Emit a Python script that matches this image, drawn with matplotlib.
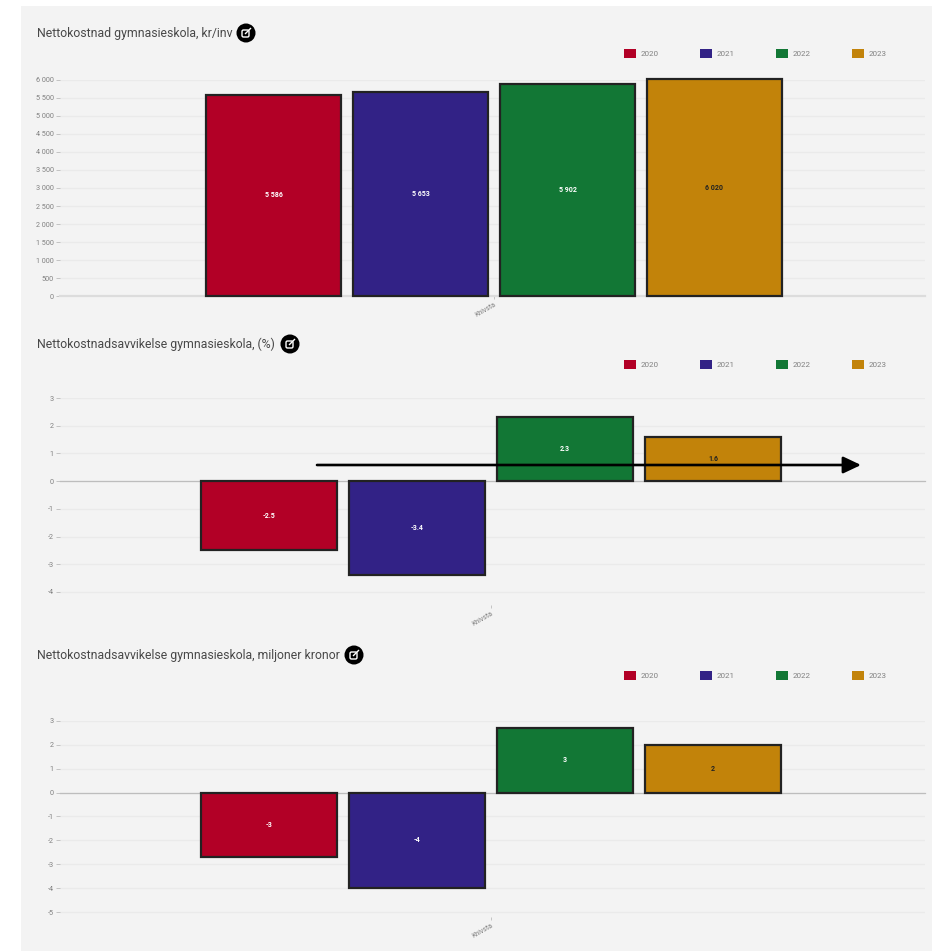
#!/usr/bin/env python3
# -*- coding: utf-8 -*-
import matplotlib
matplotlib.use('Agg')
import matplotlib.pyplot as plt
from matplotlib.patches import Circle, Patch, Rectangle, FancyBboxPatch

W, H = 932, 951

YEARS = ['2020', '2021', '2022', '2023']
COLORS = ['#B20026', '#322286', '#127735', '#C2830A']
LABEL_COLORS = ['white', 'white', 'white', '#222222']
CATEGORY = 'Knivsta'

TITLE_1 = 'Nettokostnad gymnasieskola, kr/inv'
VALUES_1 = [5586, 5653, 5902, 6020]
LABELS_1 = ['5 586', '5 653', '5 902', '6 020']
TICKS_1 = [0, 500, 1000, 1500, 2000, 2500, 3000, 3500, 4000, 4500, 5000, 5500, 6000]
TICKLABELS_1 = ['0', '500', '1 000', '1 500', '2 000', '2 500', '3 000', '3 500',
                '4 000', '4 500', '5 000', '5 500', '6 000']

TITLE_2 = 'Nettokostnadsavvikelse gymnasieskola, (%)'
VALUES_2 = [-2.5, -3.4, 2.3, 1.6]
LABELS_2 = ['-2.5', '-3.4', '2.3', '1.6']
TICKS_2 = [-4, -3, -2, -1, 0, 1, 2, 3]

TITLE_3 = 'Nettokostnadsavvikelse gymnasieskola, miljoner kronor'
VALUES_3 = [-2.7, -4.0, 2.7, 2.0]
LABELS_3 = ['-3', '-4', '3', '2']
TICKS_3 = [-5, -4, -3, -2, -1, 0, 1, 2, 3]

plt.rcParams['font.family'] = ['Roboto', 'DejaVu Sans']

fig = plt.figure(figsize=(W / 100, H / 100), dpi=100, facecolor='white')
fig.patches.append(Rectangle((21 / W, 0), (W - 21) / W, 1 - 6 / H, transform=fig.transFigure,
                             facecolor='#F3F3F3', edgecolor='none', zorder=-10))


def panel(values, labels, ticks, ticklabels, top_px, bot_px, ylim, first_px, step_px, bar_px,
          legend_y, base_color, base_lw):
    # eixo em pixels da figura, x = posição da barra
    left, right = 60, 925
    ax = fig.add_axes([left / W, 1 - bot_px / H, (right - left) / W, (bot_px - top_px) / H])
    ax.patch.set_alpha(0)
    x = range(len(values))
    bars = ax.bar(x, values, width=bar_px / step_px, color=COLORS, edgecolor='#222222',
                  linewidth=1.6, zorder=3, clip_on=False)
    for b, lab, c in zip(bars, labels, LABEL_COLORS):
        ax.text(b.get_x() + b.get_width() / 2, b.get_height() / 2, lab, ha='center', va='center',
                fontsize=5, fontweight='bold', color=c, zorder=4)
    ax.set_xlim((left - first_px) / step_px, (right - first_px) / step_px)
    ax.set_ylim(*ylim)
    ax.set_yticks(ticks)
    ax.set_yticklabels(ticklabels, fontsize=5.2, color='#808080')
    ax.set_xticks([1.5])
    ax.set_xticklabels([CATEGORY], fontsize=5, color='#808080', rotation=30, ha='right',
                       rotation_mode='anchor')
    ax.tick_params(axis='y', length=3, width=0.6, color='#BBBBBB', pad=1.5)
    ax.tick_params(axis='x', length=2, width=0.6, color='#BBBBBB', pad=2)
    ax.grid(axis='y', color='#EAEAEA', lw=1, zorder=1)
    ax.axhline(0, color=base_color, lw=base_lw, zorder=2, clip_on=False)
    for s in ax.spines.values():
        s.set_visible(False)
    handles = [Patch(facecolor=c, edgecolor='none', label=y) for c, y in zip(COLORS, YEARS)]
    ax.legend(handles=handles, ncol=4, frameon=False, loc='center left',
              bbox_to_anchor=(624 / W, 1 - legend_y / H), bbox_transform=fig.transFigure,
              fontsize=5.8, labelcolor='#808080', handlelength=1.5, handleheight=1.5,
              handletextpad=0.5, columnspacing=5.2, borderpad=0, borderaxespad=0)
    return ax


panel(VALUES_1, LABELS_1, TICKS_1, TICKLABELS_1, 80, 296, (0, 6000), 273.5, 147, 135, 53.5,
      '#DCDCDC', 1.6)
panel(VALUES_2, LABELS_2, TICKS_2, [str(t) for t in TICKS_2], 398, 605, (-4.47, 3), 269, 148, 136, 364.5,
      '#BDBDBD', 0.9)
panel(VALUES_3, LABELS_3, TICKS_3, [str(t) for t in TICKS_3], 720.7, 917, (-5.2, 3), 269, 148, 136, 675.5,
      '#BDBDBD', 0.9)

# camada em pixels: títulos, ícones e a seta
over = fig.add_axes([0, 0, 1, 1], zorder=20)
over.set_xlim(0, W); over.set_ylim(H, 0)
over.axis('off')
for title, y, icon_x in [(TITLE_1, 33, 246), (TITLE_2, 344, 290), (TITLE_3, 655, 354)]:
    over.text(37, y, title, fontsize=8.8, color='#484848', va='center', ha='left')
    over.add_patch(Circle((icon_x, y), 9.5, facecolor='black', edgecolor='none'))
    over.add_patch(FancyBboxPatch((icon_x - 4, y - 3), 7, 7, boxstyle='round,pad=0,rounding_size=1.5',
                                  facecolor='none', edgecolor='white', lw=1))
    over.plot([icon_x - 0.5, icon_x + 4.5], [y + 0.5, y - 4.5], color='white', lw=1)
over.annotate('', xy=(861, 465), xytext=(317, 465),
              arrowprops=dict(arrowstyle='-|>,head_length=0.72,head_width=0.34', color='black',
                              lw=1.9, shrinkA=0, shrinkB=0, mutation_scale=15))

fig.savefig('out.png', dpi=100)
plt.close(fig)
